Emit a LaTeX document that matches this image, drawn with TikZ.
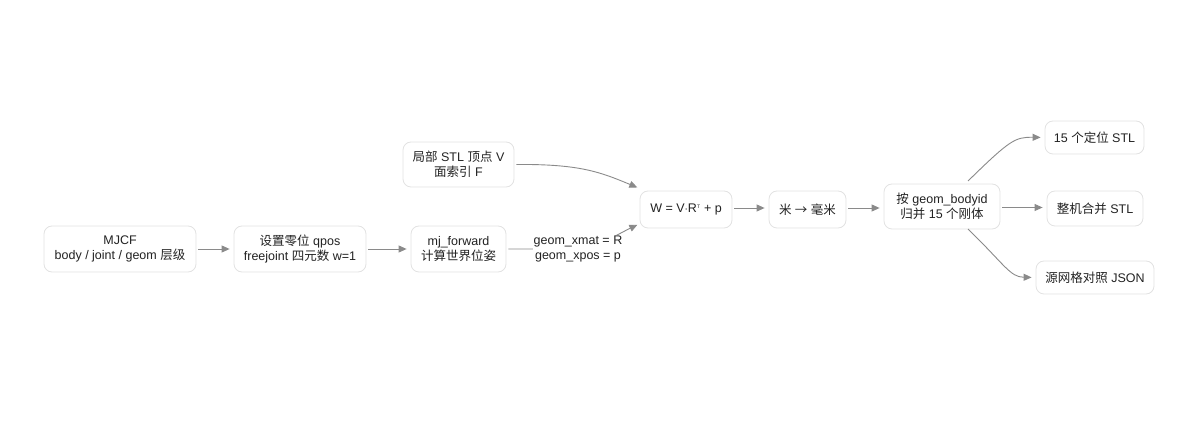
\documentclass[tikz,border=0pt]{standalone}
\usepackage{fontspec}
\setmainfont{Liberation Sans}
\newfontfamily\cjk{Noto Sans CJK SC}
\usetikzlibrary{arrows.meta}
\definecolor{boxline}{HTML}{E2E2E2}
\definecolor{arr}{HTML}{8A8A8A}
\definecolor{txt}{HTML}{222222}
\tikzset{
  box/.style={draw=boxline, line width=0.8pt, fill=white, rounded corners=8pt, align=center, font=\fontsize{12.5}{15}\selectfont, text=txt, inner sep=0pt},
  conn/.style={draw=arr, line width=0.9pt, -{Triangle[length=8pt,width=7pt]}, shorten <=2pt, shorten >=4pt},
  lbl/.style={fill=white, align=center, font=\fontsize{12.5}{15}\selectfont, text=txt, inner sep=1pt}
}
\begin{document}
\begin{tikzpicture}[x=1pt,y=-1pt]
\useasboundingbox (0,0) rectangle (1200,446);
\node[box, minimum width=152pt, minimum height=46pt] (mjcf) at (120,249) {MJCF\\body / joint / geom {\cjk 层级}};
\node[box, minimum width=132pt, minimum height=46pt] (zero) at (300,249) {{\cjk 设置零位} qpos\\freejoint {\cjk 四元数} w=1};
\node[box, minimum width=95pt, minimum height=46pt] (fwd) at (458.5,249) {mj\_forward\\{\cjk 计算世界位姿}};
\node[box, minimum width=111pt, minimum height=45pt] (loc) at (458.5,164.5) {{\cjk 局部} STL {\cjk 顶点} V\\{\cjk 面索引} F};
\node[box, minimum width=92pt, minimum height=37pt] (w) at (686,209.5) {W = V$\cdot$R\textsuperscript{\tiny T} + p};
\node[box, minimum width=77pt, minimum height=37pt] (mm) at (807.5,209.5) {{\cjk 米} {\cjk →} {\cjk 毫米}};
\node[box, minimum width=116pt, minimum height=45pt] (grp) at (942,206.5) {{\cjk 按} geom\_bodyid\\{\cjk 归并} 15 {\cjk 个刚体}};
\node[box, minimum width=99pt, minimum height=33pt] (s15) at (1094.5,137.5) {15 {\cjk 个定位} STL};
\node[box, minimum width=96pt, minimum height=35pt] (all) at (1095,208.5) {{\cjk 整机合并} STL};
\node[box, minimum width=118pt, minimum height=33pt] (json) at (1095,277.5) {{\cjk 源网格对照} JSON};
\coordinate (wtop) at (641,189);
\coordinate (wbot) at (641,223);
\coordinate (g1) at (968,181);
\coordinate (g2) at (968,229);
\draw[conn] (mjcf) -- (zero);
\draw[conn] (zero) -- (fwd);
\draw[conn] (loc.east) .. controls (580,164) and (600,172) .. (wtop);
\draw[conn] (fwd.east) -- (540,249) .. controls (600,249) and (610,238) .. (wbot);
\node[lbl] (lab) at (578,249) {geom\_xmat = R\\geom\_xpos = p};
\draw[conn] (w.east |- 0,208) -- (mm.west |- 0,208);
\draw[conn] (mm.east |- 0,208) -- (grp.west |- 0,208);
\draw[conn, shorten <=0pt] (g1) .. controls (1010,140) and (1015,137) .. (s15.west);
\draw[conn] (grp.east |- 0,207.5) -- (all.west |- 0,207.5);
\draw[conn, shorten <=0pt] (g2) .. controls (1005,265) and (1010,277) .. (json.west);
\end{tikzpicture}
\end{document}
